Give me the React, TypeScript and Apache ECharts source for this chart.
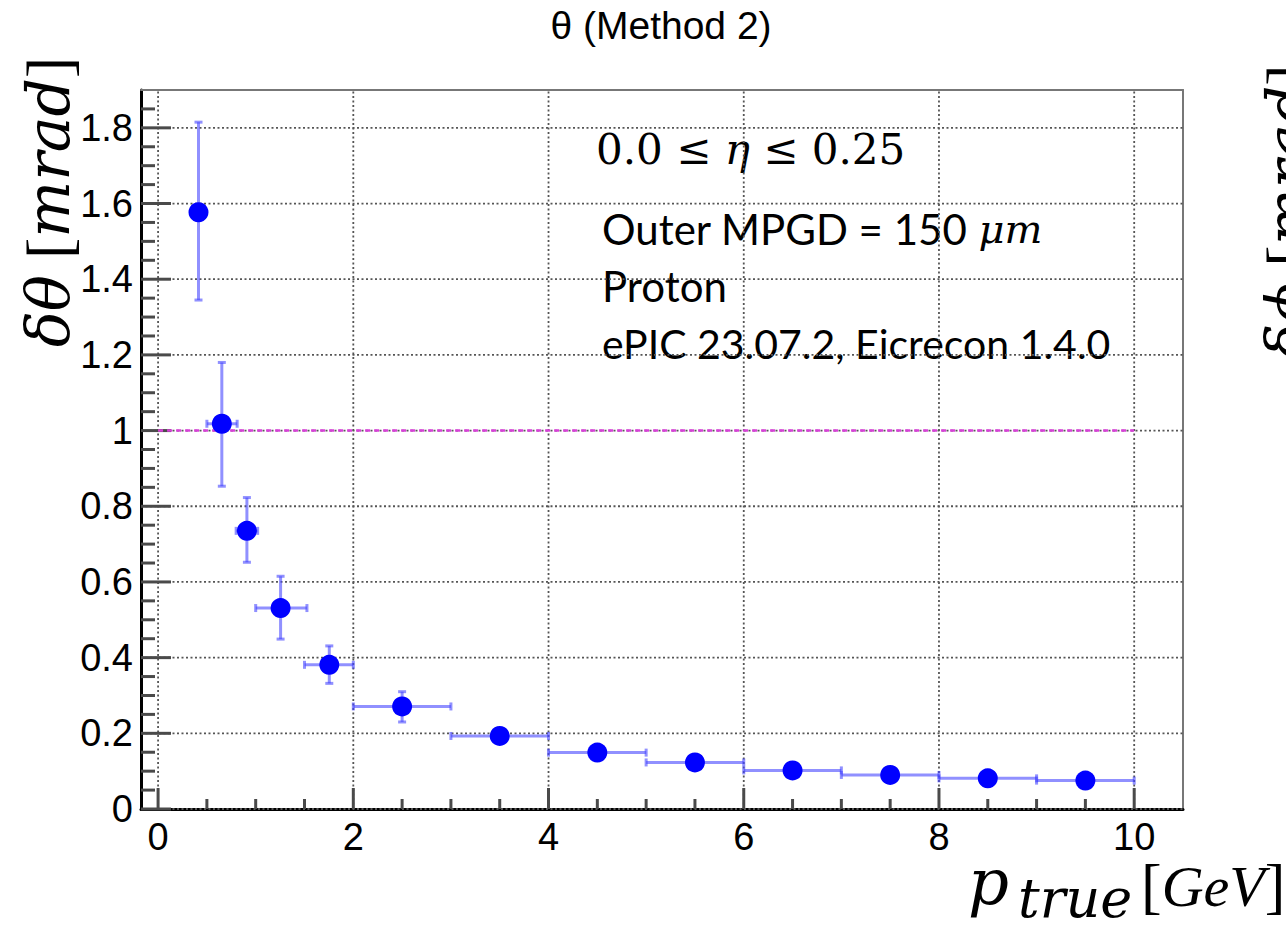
import React, { useEffect, useRef } from "react";
import * as echarts from "echarts";

// ---- data ----
const pTrue = [0.414, 0.653, 0.91, 1.255, 1.754, 2.5, 3.5, 4.5, 5.5, 6.5, 7.5, 8.5, 9.5];
const dTheta = [1.577, 1.018, 0.735, 0.531, 0.381, 0.271, 0.193, 0.149, 0.123, 0.102, 0.09, 0.081, 0.075];
const pLow = [0.414, 0.5, 0.8, 1.0, 1.5, 2, 3, 4, 5, 6, 7, 8, 9];
const pHigh = [0.414, 0.81, 1.02, 1.525, 2.0, 3, 4, 5, 6, 7, 8, 9, 10];
const dThetaLow = [1.345, 0.853, 0.652, 0.449, 0.332, 0.23, 0.188, 0.146, 0.121, 0.1, 0.088, 0.08, 0.074];
const dThetaHigh = [1.815, 1.18, 0.823, 0.615, 0.431, 0.31, 0.198, 0.152, 0.125, 0.104, 0.092, 0.082, 0.076];

const refLineX = [0, 10];
const refLineY = 1.0;

const xMajorTicks = [0, 2, 4, 6, 8, 10];
const yMajorTicks = [0, 0.2, 0.4, 0.6, 0.8, 1.0, 1.2, 1.4, 1.6, 1.8];
const xMinorStep = 0.5;
const yMinorStep = 0.05;

const X_MIN = -0.175;
const X_MAX = 10.5;
const Y_MIN = 0;
const Y_MAX = 1.9;

function minorTicks(min: number, max: number, step: number, majors: number[]) {
  const out: number[] = [];
  const n = Math.round((max - min) / step);
  for (let i = 0; i <= n; i++) {
    const v = Math.round((min + i * step) * 1000) / 1000;
    if (v <= min || v >= max) continue;
    if (majors.some((m) => Math.abs(m - v) < 1e-6)) continue;
    out.push(v);
  }
  return out;
}

const xMinorTicks = minorTicks(0, 10.5, xMinorStep, xMajorTicks);
const yMinorTicks = minorTicks(0, 1.9, yMinorStep, yMajorTicks);

const ERR_COLOR = "rgba(70,70,255,0.6)";
const MARK_COLOR = "#0000ff";
const GRID_COLOR = "#555555";
const TICK_COLOR = "#4a4a4a";
const TICK_FONT = "'Liberation Sans', Arial, sans-serif";
const MATH_FONT = "'DejaVu Serif', 'Liberation Serif', serif";
const BRACKET_FONT = "'Liberation Serif', serif";
const TEXT_FONT = "Lato, 'Open Sans', sans-serif";

export default function App() {
  const ref = useRef<HTMLDivElement>(null);

  useEffect(() => {
    document.body.style.margin = "0";
    if (!ref.current) return;
    const chart = echarts.init(ref.current, undefined, { renderer: "svg" });

    const pointData = pTrue.map((x, i) => [x, dTheta[i], pLow[i], pHigh[i], dThetaLow[i], dThetaHigh[i]]);

    const axisTitleRich = {
      i: { fontFamily: MATH_FONT, fontStyle: "italic", fontSize: 60, fill: "#000" },
      u: { fontFamily: BRACKET_FONT, fontSize: 64, fill: "#000" },
    };

    const option: any = {
      animation: false,
      backgroundColor: "#ffffff",
      grid: { left: 141, right: 103, top: 90, bottom: 121, containLabel: false },
      xAxis: [
        {
          type: "value",
          min: X_MIN,
          max: X_MAX,
          axisLine: { show: true, onZero: false, lineStyle: { color: "#000", width: 3 } },
          axisTick: { show: false },
          splitLine: { show: false },
          axisLabel: {
            customValues: xMajorTicks,
            fontSize: 38,
            color: "#000",
            fontFamily: TICK_FONT,
            margin: 9,
            formatter: (v: number) => String(Math.round(v)),
          },
        },
        {
          type: "value",
          position: "top",
          min: X_MIN,
          max: X_MAX,
          axisLine: { show: true, onZero: false, lineStyle: { color: "#777", width: 2 } },
          axisTick: { show: false },
          axisLabel: { show: false },
          splitLine: { show: false },
        },
      ],
      yAxis: [
        {
          type: "value",
          min: Y_MIN,
          max: Y_MAX,
          axisLine: { show: true, onZero: false, lineStyle: { color: "#000", width: 3 } },
          axisTick: { show: false },
          splitLine: { show: false },
          axisLabel: {
            customValues: yMajorTicks,
            fontSize: 38,
            color: "#000",
            fontFamily: TICK_FONT,
            margin: 8,
            formatter: (v: number) => String(Math.round(v * 10) / 10),
          },
        },
        {
          type: "value",
          position: "right",
          min: Y_MIN,
          max: Y_MAX,
          axisLine: { show: true, onZero: false, lineStyle: { color: "#777", width: 2 } },
          axisTick: { show: false },
          axisLabel: { show: false },
          splitLine: { show: false },
        },
      ],
      series: [
        {
          type: "custom",
          z: 1,
          silent: true,
          data: xMajorTicks.map((v) => [v, Y_MIN]),
          encode: { x: 0, y: 1 },
          renderItem: (_p: any, api: any) => {
            const v = api.value(0);
            const b = api.coord([v, Y_MIN]);
            const t = api.coord([v, Y_MAX]);
            return {
              type: "group",
              children: [
                { type: "line", shape: { x1: b[0], y1: b[1], x2: t[0], y2: t[1] }, style: { stroke: GRID_COLOR, lineWidth: 1.8, lineDash: [2, 2.5] } },
                { type: "line", shape: { x1: b[0], y1: b[1], x2: b[0], y2: b[1] - 21 }, style: { stroke: TICK_COLOR, lineWidth: 3 } },
              ],
            };
          },
        },
        {
          type: "custom",
          z: 1,
          silent: true,
          data: yMajorTicks.map((v) => [X_MIN, v]),
          encode: { x: 0, y: 1 },
          renderItem: (_p: any, api: any) => {
            const v = api.value(1);
            const l = api.coord([X_MIN, v]);
            const r = api.coord([X_MAX, v]);
            return {
              type: "group",
              children: [
                { type: "line", shape: { x1: l[0], y1: l[1], x2: r[0], y2: r[1] }, style: { stroke: GRID_COLOR, lineWidth: 1.8, lineDash: [2, 2.5] } },
                { type: "line", shape: { x1: l[0], y1: l[1], x2: l[0] + 30, y2: l[1] }, style: { stroke: TICK_COLOR, lineWidth: 3 } },
              ],
            };
          },
        },
        {
          type: "custom",
          z: 1,
          silent: true,
          data: xMinorTicks.map((v) => [v, Y_MIN]),
          encode: { x: 0, y: 1 },
          renderItem: (_p: any, api: any) => {
            const b = api.coord([api.value(0), Y_MIN]);
            return { type: "line", shape: { x1: b[0], y1: b[1], x2: b[0], y2: b[1] - 10 }, style: { stroke: TICK_COLOR, lineWidth: 3 } };
          },
        },
        {
          type: "custom",
          z: 1,
          silent: true,
          data: yMinorTicks.map((v) => [X_MIN, v]),
          encode: { x: 0, y: 1 },
          renderItem: (_p: any, api: any) => {
            const l = api.coord([X_MIN, api.value(1)]);
            return { type: "line", shape: { x1: l[0], y1: l[1], x2: l[0] + 14, y2: l[1] }, style: { stroke: TICK_COLOR, lineWidth: 3 } };
          },
        },
        {
          type: "line",
          z: 2,
          silent: true,
          symbol: "none",
          data: refLineX.map((x) => [x, refLineY]),
          lineStyle: { color: "#d840d8", width: 2.5, type: [5, 4] },
        },
        {
          type: "custom",
          z: 5,
          data: pointData,
          encode: { x: 0, y: 1 },
          renderItem: (_p: any, api: any) => {
            const x = api.value(0);
            const y = api.value(1);
            const c = api.coord([x, y]);
            const L = api.coord([api.value(2), y]);
            const R = api.coord([api.value(3), y]);
            const B = api.coord([x, api.value(4)]);
            const T = api.coord([x, api.value(5)]);
            const st = { stroke: ERR_COLOR, lineWidth: 3 };
            const cap = 4;
            const children: any[] = [];
            if (R[0] - L[0] > 2) {
              children.push({ type: "line", shape: { x1: L[0], y1: L[1], x2: R[0], y2: R[1] }, style: st });
              children.push({ type: "line", shape: { x1: L[0], y1: L[1] - cap, x2: L[0], y2: L[1] + cap }, style: st });
              children.push({ type: "line", shape: { x1: R[0], y1: R[1] - cap, x2: R[0], y2: R[1] + cap }, style: st });
            }
            if (B[1] - T[1] > 2) {
              children.push({ type: "line", shape: { x1: T[0], y1: T[1], x2: B[0], y2: B[1] }, style: st });
              children.push({ type: "line", shape: { x1: T[0] - cap, y1: T[1], x2: T[0] + cap, y2: T[1] }, style: st });
              children.push({ type: "line", shape: { x1: B[0] - cap, y1: B[1], x2: B[0] + cap, y2: B[1] }, style: st });
            }
            children.push({ type: "circle", shape: { cx: c[0], cy: c[1], r: 10 }, style: { fill: MARK_COLOR } });
            return { type: "group", children };
          },
        },
      ],
      graphic: [
        {
          type: "text",
          x: 661,
          y: 25,
          style: { text: "θ (Method 2)", font: `39px ${TICK_FONT}`, fill: "#000", textAlign: "center", textVerticalAlign: "middle" },
        },
        {
          type: "text",
          x: 48,
          y: 202,
          rotation: Math.PI / 2,
          style: {
            text: "{i|δθ}{u| [}{i|mrad}{u|]}",
            textAlign: "center",
            textVerticalAlign: "middle",
            fill: "#000",
            rich: axisTitleRich,
          },
        },
        {
          type: "text",
          x: 1288,
          y: 212,
          rotation: Math.PI / 2,
          style: {
            text: "{i|δϕ}{u| [}{i|mrad}{u|]}",
            textAlign: "center",
            textVerticalAlign: "middle",
            fill: "#000",
            rich: axisTitleRich,
          },
        },
        {
          type: "text",
          x: 968,
          y: 882,
          style: { text: "p", font: `italic 64px ${MATH_FONT}`, fill: "#000", textAlign: "left", textVerticalAlign: "middle" },
        },
        {
          type: "text",
          x: 1018,
          y: 898,
          style: { text: "true", font: `italic 54px ${MATH_FONT}`, fill: "#000", textAlign: "left", textVerticalAlign: "middle" },
        },
        {
          type: "text",
          x: 1141,
          y: 886,
          style: {
            text: "{u|[}{i|GeV}{u|]}",
            textAlign: "left",
            textVerticalAlign: "middle",
            rich: {
              u: { fontFamily: BRACKET_FONT, fontSize: 62, fill: "#000" },
              i: { fontFamily: BRACKET_FONT, fontStyle: "italic", fontSize: 58, fill: "#000" },
            },
          },
        },
        {
          type: "text",
          x: 596,
          y: 149,
          style: {
            text: "{u|0.0 ≤ }{i|η}{u| ≤ 0.25}",
            textAlign: "left",
            textVerticalAlign: "middle",
            rich: {
              i: { fontFamily: MATH_FONT, fontStyle: "italic", fontSize: 42, fill: "#000" },
              u: { fontFamily: MATH_FONT, fontSize: 42, fill: "#000" },
            },
          },
        },
        {
          type: "text",
          x: 602,
          y: 229,
          style: {
            text: "{t|Outer MPGD = 150 }{i|μm}",
            textAlign: "left",
            textVerticalAlign: "middle",
            rich: {
              t: { fontFamily: TEXT_FONT, fontSize: 42, fill: "#000" },
              i: { fontFamily: MATH_FONT, fontStyle: "italic", fontSize: 40, fill: "#000" },
            },
          },
        },
        {
          type: "text",
          x: 602,
          y: 286,
          style: { text: "Proton", font: `42px ${TEXT_FONT}`, fill: "#000", textAlign: "left", textVerticalAlign: "middle" },
        },
        {
          type: "text",
          x: 602,
          y: 343,
          style: { text: "ePIC 23.07.2, Eicrecon 1.4.0", font: `41px ${TEXT_FONT}`, fill: "#000", textAlign: "left", textVerticalAlign: "middle" },
        },
      ],
    };

    chart.setOption(option);
    return () => chart.dispose();
  }, []);

  return <div ref={ref} style={{ width: 1286, height: 930 }} />;
}
